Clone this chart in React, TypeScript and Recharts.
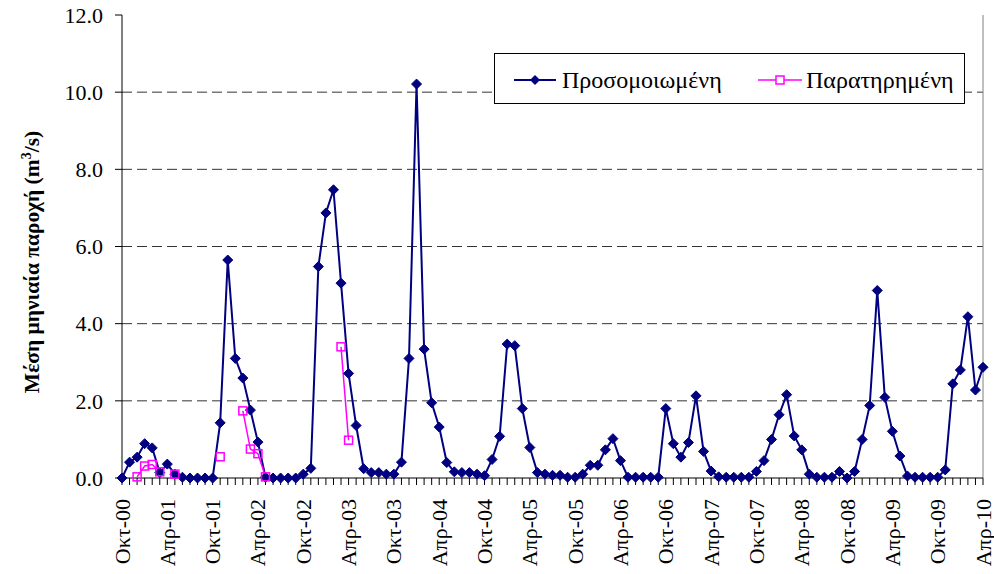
import React from 'react';
import { LineChart, Line, XAxis, YAxis, ReferenceLine, Legend } from 'recharts';

const FONT = '"Liberation Serif", "Times New Roman", serif';

const monthNames = ['Ιαν', 'Φεβ', 'Μαρ', 'Απρ', 'Μαϊ', 'Ιουν', 'Ιουλ', 'Αυγ', 'Σεπ', 'Οκτ', 'Νοε', 'Δεκ'];
const startMonth = 9; // Οκτ 2000
const startYear = 2000;
const monthCount = 115;
const categories: string[] = [];
for (let i = 0; i < monthCount; i++) {
  const m = (startMonth + i) % 12;
  const y = startYear + Math.floor((startMonth + i) / 12);
  categories.push(`${monthNames[m]}-${String(y % 100).padStart(2, '0')}`);
}

const simulated: number[] = [
  0.0, 0.41, 0.54, 0.89, 0.78, 0.14, 0.36, 0.10, 0.02, 0.0, 0.0, 0.0,
  0.0, 1.43, 5.65, 3.10, 2.59, 1.76, 0.93, 0.02, 0.0, 0.0, 0.0, 0.0,
  0.10, 0.25, 5.48, 6.87, 7.47, 5.05, 2.71, 1.36, 0.24, 0.14, 0.14, 0.10,
  0.10, 0.41, 3.10, 10.21, 3.34, 1.95, 1.32, 0.40, 0.16, 0.14, 0.14, 0.10,
  0.06, 0.48, 1.08, 3.47, 3.43, 1.80, 0.79, 0.14, 0.10, 0.07, 0.07, 0.02,
  0.02, 0.10, 0.33, 0.33, 0.73, 1.02, 0.45, 0.02, 0.02, 0.02, 0.02, 0.02,
  1.80, 0.89, 0.54, 0.92, 2.13, 0.69, 0.18, 0.03, 0.02, 0.02, 0.02, 0.02,
  0.17, 0.45, 1.00, 1.64, 2.16, 1.09, 0.73, 0.10, 0.02, 0.02, 0.02, 0.17,
  0.0, 0.17, 1.00, 1.88, 4.86, 2.09, 1.21, 0.57, 0.05, 0.02, 0.02, 0.02,
  0.02, 0.21, 2.44, 2.80, 4.18, 2.28, 2.87,
];

const observed: (number | null)[] = [
  null, null, 0.03, 0.31, 0.35, 0.16, null, 0.10, null, null, null, null,
  null, 0.55, null, null, 1.74, 0.75, 0.63, 0.03, null, null, null, null,
  null, null, null, null, null, 3.40, 0.98,
];

const yTicks = [0, 2, 4, 6, 8, 10, 12];
const gridValues = [2, 4, 6, 8, 10];
const seriesNames = ['Προσομοιωμένη', 'Παρατηρημένη'];
const labelEvery = 6;

const data = categories.map((c, i) => ({
  month: c,
  sim: simulated[i],
  obs: i < observed.length ? observed[i] : null,
}));

const NAVY = '#000080';
const MAGENTA = '#FF00FF';

const Diamond = (props: any) => {
  const { cx, cy, index } = props;
  if (cx == null || cy == null) return <g key={`sd${index}`} />;
  const r = 5;
  return (
    <path
      key={`sd${index}`}
      d={`M${cx},${cy - r} L${cx + r},${cy} L${cx},${cy + r} L${cx - r},${cy} Z`}
      fill={NAVY}
      stroke={NAVY}
      strokeWidth={1}
    />
  );
};

const Square = (props: any) => {
  const { cx, cy, index, value } = props;
  if (cx == null || cy == null || value == null) return <g key={`od${index}`} />;
  const r = 4;
  return (
    <rect
      key={`od${index}`}
      x={cx - r}
      y={cy - r}
      width={2 * r}
      height={2 * r}
      fill="none"
      stroke={MAGENTA}
      strokeWidth={1.5}
    />
  );
};

const XTick = (props: any) => {
  const { x, y, payload } = props;
  const idx = payload && payload.index != null ? payload.index : props.index;
  if (idx % labelEvery !== 0) return <g />;
  return (
    <text
      x={x}
      y={y}
      transform={`rotate(-90, ${x}, ${y})`}
      textAnchor="end"
      dominantBaseline="central"
      fontSize={22}
      fontFamily={FONT}
      fill="#000"
    >
      {payload.value}
    </text>
  );
};

const YTitle = () => {
  const x = 39;
  const y = 262;
  return (
    <text
      x={x}
      y={y}
      transform={`rotate(-90, ${x}, ${y})`}
      textAnchor="middle"
      fontSize={21.5}
      fontWeight="bold"
      fontFamily={FONT}
      fill="#000"
    >
      <tspan>Μέση μηνιαία παροχή (m</tspan>
      <tspan dy={-8} fontSize={14}>3</tspan>
      <tspan dy={8}>/s)</tspan>
    </text>
  );
};

const LegendBox = () => (
  <svg width={472} height={52} style={{ display: 'block' }}>
    <rect x={0.5} y={0.5} width={470} height={50} fill="#fff" stroke="#000" strokeWidth={1} />
    <line x1={20} y1={27} x2={62} y2={27} stroke={NAVY} strokeWidth={2} />
    <path d="M41,22 L46,27 L41,32 L36,27 Z" fill={NAVY} />
    <text x={68} y={35} fontSize={24} fontFamily={FONT} fill="#000">{seriesNames[0]}</text>
    <line x1={264} y1={27} x2={308} y2={27} stroke={MAGENTA} strokeWidth={1.5} />
    <rect x={282} y={23} width={8} height={8} fill="#fff" stroke={MAGENTA} strokeWidth={1.5} />
    <text x={312} y={35} fontSize={24} fontFamily={FONT} fill="#000">{seriesNames[1]}</text>
  </svg>
);

export default function App() {
  return (
    <div style={{ position: 'fixed', left: 0, top: 0, width: 994, height: 574, background: '#fff' }}>
      <LineChart
        width={994}
        height={574}
        data={data}
        margin={{ top: 15, right: 11, bottom: 0, left: 0 }}
      >
        <XAxis
          dataKey="month"
          interval={0}
          tick={<XTick />}
          tickSize={7}
          tickMargin={14}
          height={96}
          axisLine={{ stroke: '#000', strokeWidth: 1 }}
          tickLine={{ stroke: '#000', strokeWidth: 1 }}
        />
        <YAxis
          domain={[0, 12]}
          ticks={yTicks}
          width={122}
          tickSize={7}
          tickMargin={12}
          tickFormatter={(v: number) => v.toFixed(1)}
          tick={{ fontSize: 22, fontFamily: FONT, fill: '#000' }}
          axisLine={{ stroke: '#000', strokeWidth: 1 }}
          tickLine={{ stroke: '#000', strokeWidth: 1 }}
          label={<YTitle />}
        />
        {gridValues.map((v) => (
          <ReferenceLine key={`g${v}`} y={v} stroke="#333" strokeWidth={1} strokeDasharray="10 5" />
        ))}
        <ReferenceLine x={categories[categories.length - 1]} stroke="#808080" strokeWidth={1} />
        <Legend
          layout="horizontal"
          verticalAlign="middle"
          align="center"
          content={() => <LegendBox />}
          wrapperStyle={{ position: 'absolute', left: 494, top: 53, width: 472, height: 52 }}
        />
        <Line
          type="linear"
          dataKey="sim"
          name={seriesNames[0]}
          stroke={NAVY}
          strokeWidth={2}
          dot={Diamond}
          activeDot={false}
          isAnimationActive={false}
        />
        <Line
          type="linear"
          dataKey="obs"
          name={seriesNames[1]}
          stroke={MAGENTA}
          strokeWidth={1.5}
          dot={Square}
          activeDot={false}
          connectNulls={false}
          isAnimationActive={false}
        />
      </LineChart>
    </div>
  );
}
